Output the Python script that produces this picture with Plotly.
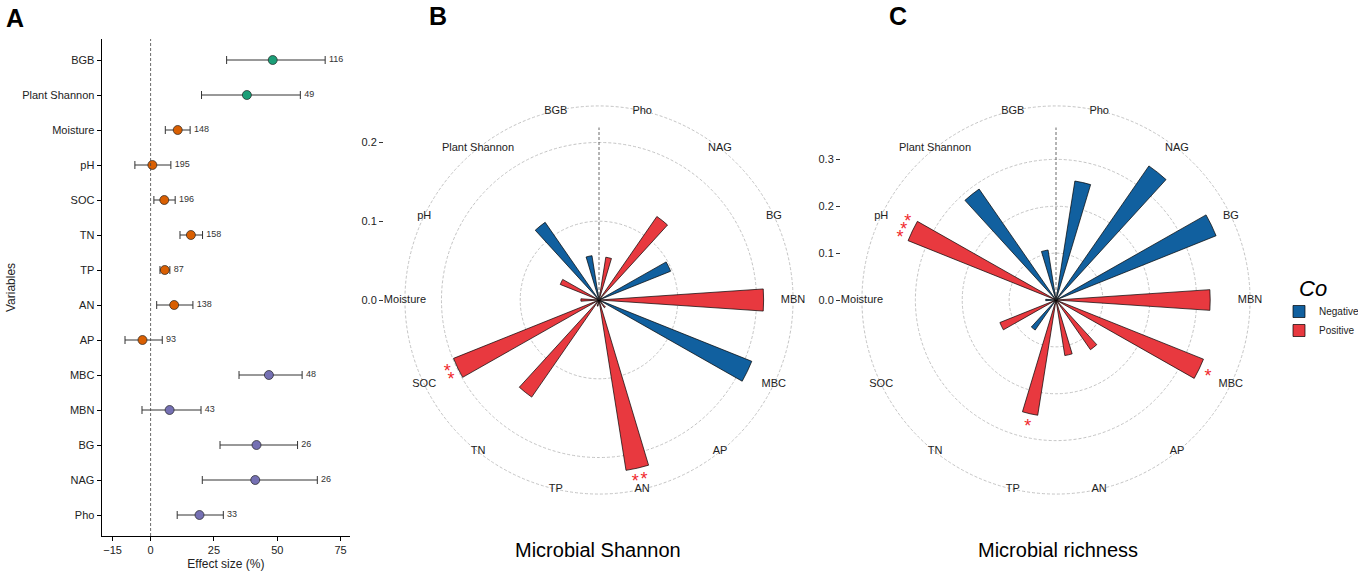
import math
import plotly.graph_objects as go

# ---------------- panel A: effect sizes ----------------
variables = ["BGB", "Plant Shannon", "Moisture", "pH", "SOC", "TN", "TP",
             "AN", "AP", "MBC", "MBN", "BG", "NAG", "Pho"]
groups = ["Plant"] * 2 + ["Soil"] * 7 + ["Microbe"] * 5
effect = [48.2, 38.0, 10.7, 0.7, 5.4, 15.9, 5.6, 9.3, -3.2, 46.7, 7.5, 41.8, 41.3, 19.3]
ci_low = [30.0, 20.1, 5.8, -6.2, 1.3, 11.6, 3.7, 2.4, -10.1, 34.9, -3.4, 27.4, 20.4, 10.5]
ci_high = [68.9, 59.1, 15.6, 8.0, 9.7, 20.5, 7.6, 16.7, 4.6, 59.8, 19.9, 58.0, 65.8, 28.7]
n_obs = [116, 49, 148, 195, 196, 158, 87, 138, 93, 48, 43, 26, 26, 33]
x_ticks = [-15, 0, 25, 50, 75]

# ---------------- panels B, C: correlations ----------------
wind_vars = ["Pho", "NAG", "BG", "MBN", "MBC", "AP", "AN", "TP", "TN", "SOC",
             "Moisture", "pH", "Plant Shannon", "BGB"]
shannon_cor = [0.055, 0.129, 0.098, 0.209, 0.209, 0.012, 0.219, 0.008, 0.150, 0.199,
               0.023, 0.053, 0.120, 0.057]
shannon_dir = ["Positive", "Positive", "Negative", "Positive", "Negative", "Positive", "Positive",
               "Positive", "Positive", "Positive", "Positive", "Positive", "Negative", "Negative"]
shannon_sig = ["", "", "", "", "", "", "**", "", "", "**", "", "", "", ""]

richness_cor = [0.257, 0.348, 0.368, 0.329, 0.339, 0.129, 0.120, 0.249, 0.078, 0.129,
                0.022, 0.340, 0.288, 0.108]
richness_dir = ["Negative", "Negative", "Negative", "Positive", "Positive", "Positive", "Positive",
                "Positive", "Negative", "Positive", "Negative", "Positive", "Negative", "Negative"]
richness_sig = ["", "", "", "", "*", "", "", "*", "", "", "", "***", "", ""]

group_colors = {"Plant": "#1b9e77", "Soil": "#d95f02", "Microbe": "#7570b3"}
dir_colors = {"Negative": "#11609f", "Positive": "#e8393f"}
FONT = "Liberation Sans, Arial, sans-serif"
W, H = 1358, 575
RAD = 196  # half size of the polar domain in px

fig = go.Figure()

# ---- panel A ----
fig.add_trace(go.Scatter(
    x=effect, y=variables, mode="markers",
    marker=dict(size=9, color=[group_colors[g] for g in groups],
                line=dict(color="#222", width=0.7)),
    error_x=dict(type="data", symmetric=False,
                 array=[h - e for h, e in zip(ci_high, effect)],
                 arrayminus=[e - l for e, l in zip(effect, ci_low)],
                 color="#333", thickness=1, width=4),
    showlegend=False, xaxis="x", yaxis="y",
))
fig.add_trace(go.Scatter(
    x=[h + 1.5 for h in ci_high], y=variables, mode="text",
    text=[str(n) for n in n_obs], textposition="middle right",
    textfont=dict(size=9, color="#333", family=FONT),
    showlegend=False, xaxis="x", yaxis="y",
))
fig.add_vline(x=0, line=dict(color="#444", width=0.8, dash="3px,2px"))


def add_wind(name, cor, direction, sig, cx, yax, xax, show_legend):
    n = len(wind_vars)
    theta = [360 * (i + 0.5) / n for i in range(n)]
    rmax = max(cor)
    outer = 1.125 * rmax
    rtop = outer * 1.01
    scale = RAD / rtop  # px per unit

    # dashed reference spoke
    fig.add_trace(go.Scatterpolar(
        r=[0, rmax], theta=[0, 0], mode="lines",
        line=dict(color="#444", width=0.8, dash="3px,2px"),
        showlegend=False, hoverinfo="skip", subplot=name))

    for d in ["Negative", "Positive"]:
        idx = [i for i in range(n) if direction[i] == d]
        fig.add_trace(go.Barpolar(
            r=[cor[i] for i in idx], theta=[theta[i] for i in idx], width=7.7,
            marker=dict(color=dir_colors[d], line=dict(color="black", width=0.7)),
            name=d, legendgroup=d, showlegend=show_legend, subplot=name))

    # variable labels sitting on the outer circle
    fig.add_trace(go.Scatterpolar(
        r=[outer] * n, theta=theta, mode="text", text=wind_vars,
        textfont=dict(size=11, color="#222", family=FONT),
        cliponaxis=False, showlegend=False, hoverinfo="skip", subplot=name))

    # significance stars, tangential to the bar tip
    sr, st = [], []
    for i, s in enumerate(sig):
        k = len(s)
        if k == 0:
            continue
        r0 = cor[i] + 0.05 * outer
        for j in range(k):
            th = theta[i] + math.degrees(9.0 / (r0 * scale)) * (j - (k - 1) / 2)
            x = r0 * math.sin(math.radians(th))
            y = r0 * math.cos(math.radians(th)) - 4.0 / scale
            sr.append(math.hypot(x, y))
            st.append(math.degrees(math.atan2(x, y)))
    fig.add_trace(go.Scatterpolar(
        r=sr, theta=st, mode="text", text=["*"] * len(sr),
        textfont=dict(size=18, color="#f0282d", family=FONT),
        cliponaxis=False, showlegend=False, hoverinfo="skip", subplot=name))

    ticks = [round(0.1 * k, 1) for k in range(int(rmax / 0.1 + 1e-9) + 1)]
    dom_x = [(cx - RAD) / W, (cx + RAD) / W]
    dom_y = [(H - 300 - RAD) / H, (H - 300 + RAD) / H]
    fig.update_layout({
        name: dict(
            domain=dict(x=dom_x, y=dom_y), bgcolor="white",
            radialaxis=dict(range=[0, rtop], tickvals=[t for t in ticks if t > 0] + [outer],
                            showticklabels=False, ticks="", showline=False,
                            gridcolor="#c4c4c4", gridwidth=0.8, griddash="3px,2px"),
            angularaxis=dict(direction="clockwise", rotation=90, showgrid=False,
                             showline=False, showticklabels=False, ticks=""),
        ),
        # radial scale drawn as a left axis, like the original
        "yaxis" + yax[1:]: dict(domain=dom_y, range=[-rtop, rtop], tickvals=ticks,
                                tickformat=".1f", anchor="free", position=(cx - 216) / W,
                                ticks="outside", ticklen=4, tickcolor="#333",
                                showline=False, showgrid=False, zeroline=False,
                                tickfont=dict(size=11, color="#222", family=FONT)),
        "xaxis" + xax[1:]: dict(domain=[dom_x[0], dom_x[0] + 0.01], visible=False),
    })
    fig.add_trace(go.Scatter(x=[None], y=[None], xaxis=xax, yaxis=yax,
                             showlegend=False, hoverinfo="skip"))


add_wind("polar", shannon_cor, shannon_dir, shannon_sig, 599, "y2", "x2", True)
add_wind("polar2", richness_cor, richness_dir, richness_sig, 1056, "y3", "x3", False)

axis_common = dict(showline=True, linecolor="black", linewidth=1.2, ticks="outside",
                   ticklen=4, tickcolor="black", showgrid=False, zeroline=False,
                   tickfont=dict(size=11, color="#222", family=FONT))
fig.update_layout(
    width=W, height=H, margin=dict(l=0, r=0, t=0, b=0, autoexpand=False),
    paper_bgcolor="white", plot_bgcolor="white",
    font=dict(family=FONT, color="#222"),
    xaxis=dict(domain=[101.7 / W, 350 / W], range=[-19.3, 78.7], tickvals=x_ticks,
               title=dict(text="Effect size (%)", font=dict(size=12), standoff=4),
               anchor="y", **axis_common),
    yaxis=dict(domain=[1 - 536 / H, 1 - 39 / H], categoryorder="array",
               categoryarray=variables[::-1], range=[-0.6, len(variables) - 0.4],
               title=dict(text="Variables", font=dict(size=12), standoff=4),
               anchor="x", **axis_common),
    legend=dict(x=1279 / W, y=1 - 297 / H, xanchor="left", yanchor="top",
                font=dict(size=10, color="#222"), bgcolor="rgba(0,0,0,0)",
                itemwidth=30, tracegroupgap=0),
    annotations=[
        dict(text="<i>Co</i>", x=1297 / W, y=1 - 288 / H, xref="paper", yref="paper",
             xanchor="left", yanchor="middle", showarrow=False, font=dict(size=22, color="black")),
        dict(text="<b>A</b>", x=4 / W, y=1 - 2 / H, xref="paper", yref="paper",
             xanchor="left", yanchor="top", showarrow=False, font=dict(size=25, color="black")),
        dict(text="<b>B</b>", x=427 / W, y=1, xref="paper", yref="paper",
             xanchor="left", yanchor="top", showarrow=False, font=dict(size=25, color="black")),
        dict(text="<b>C</b>", x=887 / W, y=1, xref="paper", yref="paper",
             xanchor="left", yanchor="top", showarrow=False, font=dict(size=25, color="black")),
        dict(text="Microbial Shannon", x=598 / W, y=1 - 550 / H, xref="paper", yref="paper",
             xanchor="center", yanchor="middle",
             showarrow=False, font=dict(size=20, color="black")),
        dict(text="Microbial richness", x=1058 / W, y=1 - 550 / H, xref="paper", yref="paper",
             xanchor="center", yanchor="middle",
             showarrow=False, font=dict(size=20, color="black")),
    ],
)

# drop the default page margin and scrollbars so the figure sits at the window's corner
fig.write_html(
    "out.html",
    config={"displayModeBar": False},
    post_script="document.documentElement.style.overflow='hidden';"
                "document.body.style.overflow='hidden';document.body.style.margin='0';",
)
